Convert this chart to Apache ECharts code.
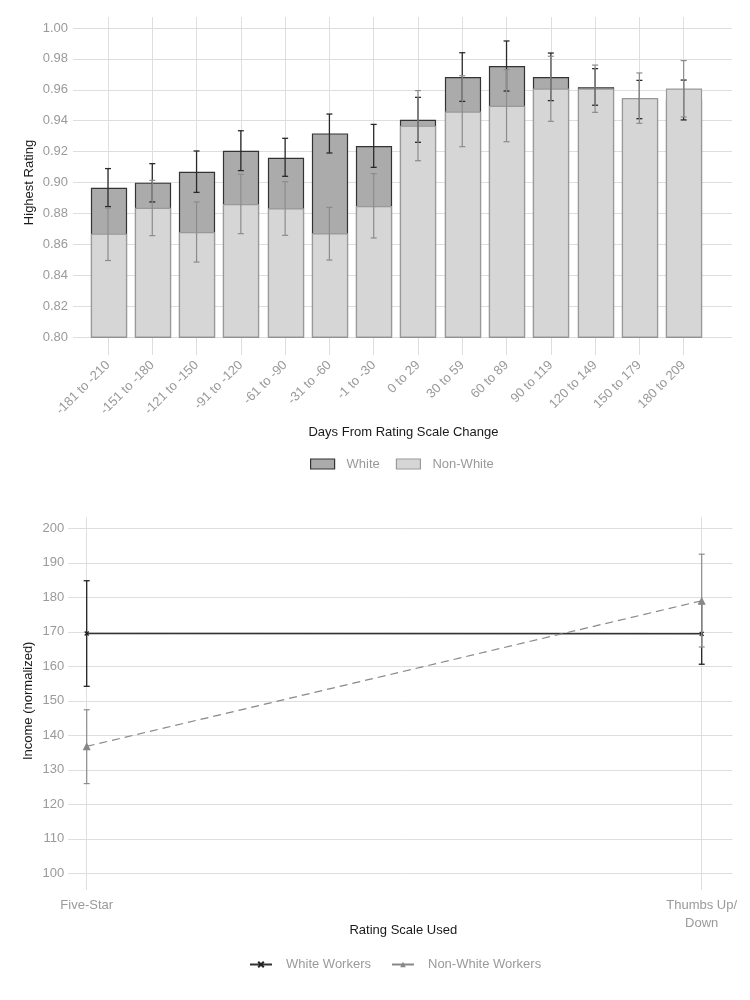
<!DOCTYPE html>
<html>
<head>
<meta charset="utf-8">
<script src="https://cdn.jsdelivr.net/npm/echarts@6/dist/echarts.min.js"></script>
<style>
html,body{margin:0;padding:0;background:#fff;}
#chart{width:750px;height:1000px;}
</style>
</head>
<body>
<div id="chart"></div>
<script>
// ---------- Top chart data ----------
var categories = ['-181 to -210','-151 to -180','-121 to -150','-91 to -120','-61 to -90','-31 to -60','-1 to -30','0 to 29','30 to 59','60 to 89','90 to 119','120 to 149','150 to 179','180 to 209'];
var whiteRating     = [0.8962, 0.8995, 0.9066, 0.9202, 0.9156, 0.9314, 0.9232, 0.9402, 0.9679, 0.9750, 0.9679, 0.9612, 0.9537, 0.9534];
var whiteRatingLow  = [0.8844, 0.8874, 0.8936, 0.9077, 0.9040, 0.9191, 0.9098, 0.9260, 0.9525, 0.9592, 0.9530, 0.9500, 0.9413, 0.9405];
var whiteRatingHigh = [0.9090, 0.9122, 0.9204, 0.9335, 0.9286, 0.9443, 0.9376, 0.9551, 0.9840, 0.9916, 0.9838, 0.9737, 0.9661, 0.9663];
var nonWhiteRating     = [0.8665, 0.8833, 0.8675, 0.8857, 0.8829, 0.8667, 0.8844, 0.9364, 0.9456, 0.9493, 0.9605, 0.9605, 0.9543, 0.9605];
var nonWhiteRatingLow  = [0.8495, 0.8656, 0.8485, 0.8669, 0.8658, 0.8498, 0.8641, 0.9141, 0.9232, 0.9264, 0.9396, 0.9454, 0.9383, 0.9424];
var nonWhiteRatingHigh = [0.8835, 0.9014, 0.8874, 0.9053, 0.9005, 0.8839, 0.9057, 0.9595, 0.9691, 0.9730, 0.9817, 0.9760, 0.9709, 0.9789];
var ratingMin = 0.80, ratingMax = 1.00, ratingStep = 0.02;

// ---------- Bottom chart data ----------
var scales = ['Five-Star', 'Thumbs Up/\nDown'];
var whiteIncome     = [169.5, 169.4];
var whiteIncomeLow  = [154.2, 160.6];
var whiteIncomeHigh = [184.8, 178.2];
var nonWhiteIncome     = [136.8, 179.0];
var nonWhiteIncomeLow  = [126.0, 165.6];
var nonWhiteIncomeHigh = [147.4, 192.5];
var incomeMin = 100, incomeMax = 200, incomeStep = 10;

// ---------- styles ----------
var FONT = 'Liberation Sans, Arial, sans-serif';
var GRID_C = '#dedede';
var TICK_C = '#9a9a9a';
var TITLE_C = '#1a1a1a';

function barRender(fill, stroke) {
  return function (params, api) {
    var i = api.value(0), v = api.value(1);
    var top = api.coord([i, v]);
    var base = api.coord([i, ratingMin]);
    var w = 35;
    return {
      type: 'rect',
      shape: { x: Math.round(top[0] - w / 2) + 0.5, y: top[1], width: w, height: base[1] - top[1] },
      style: { fill: fill, stroke: stroke, lineWidth: 1.2 }
    };
  };
}
function errRender(color, lw, cap) {
  return function (params, api) {
    var i = api.value(0);
    var lo = api.coord([i, api.value(1)]);
    var hi = api.coord([i, api.value(2)]);
    var x = lo[0];
    var st = { stroke: color, lineWidth: lw };
    return {
      type: 'group',
      children: [
        { type: 'line', shape: { x1: x, y1: lo[1], x2: x, y2: hi[1] }, style: st },
        { type: 'line', shape: { x1: x - cap, y1: lo[1], x2: x + cap, y2: lo[1] }, style: st },
        { type: 'line', shape: { x1: x - cap, y1: hi[1], x2: x + cap, y2: hi[1] }, style: st }
      ]
    };
  };
}

var chart = echarts.init(document.getElementById('chart'), null, { renderer: 'canvas' });

var option = {
  backgroundColor: '#ffffff',
  animation: false,
  textStyle: { fontFamily: FONT },
  grid: [
    { left: 73, right: 18, top: 28, height: 309 },                 // 0 top background (horizontal lines)
    { left: 85.86, right: 44.2, top: 28, height: 309 },            // 1 top bars
    { left: 108, right: 66.3, top: 17, height: 338 },              // 2 top vertical lines + labels
    { left: 68.3, right: 17.5, top: 528.3, height: 345 },          // 3 bottom background
    { left: 86.7, right: 48.3, top: 517.3, height: 372.7 },        // 4 bottom vertical lines + labels
    { left: 86.7, right: 48.3, top: 528.3, height: 345 }           // 5 bottom series
  ],
  xAxis: [
    { gridIndex: 0, type: 'value', show: false },
    { gridIndex: 1, type: 'category', data: categories, boundaryGap: true, show: false },
    { gridIndex: 2, type: 'category', data: categories, boundaryGap: false,
      axisLine: { show: false }, axisTick: { show: false },
      splitLine: { show: true, interval: 0, lineStyle: { color: GRID_C, width: 1 } },
      axisLabel: { interval: 0, rotate: 45, align: 'right', verticalAlign: 'middle', margin: 8,
        color: TICK_C, fontSize: 13, fontFamily: FONT } },
    { gridIndex: 3, type: 'value', show: false },
    { gridIndex: 4, type: 'category', data: scales, boundaryGap: false,
      axisLine: { show: false }, axisTick: { show: false },
      splitLine: { show: true, interval: 0, lineStyle: { color: GRID_C, width: 1 } },
      axisLabel: { interval: 0, margin: 6, color: TICK_C, fontSize: 13, lineHeight: 18, fontFamily: FONT, align: 'center' } },
    { gridIndex: 5, type: 'category', data: scales, boundaryGap: false, show: false }
  ],
  yAxis: [
    { gridIndex: 0, type: 'value', min: ratingMin, max: ratingMax, interval: ratingStep,
      axisLine: { show: false }, axisTick: { show: false },
      splitLine: { show: true, lineStyle: { color: GRID_C, width: 1 } },
      axisLabel: { formatter: function (v) { return v.toFixed(2); }, color: TICK_C, fontSize: 13, margin: 5, fontFamily: FONT } },
    { gridIndex: 1, type: 'value', min: ratingMin, max: ratingMax, show: false },
    { gridIndex: 2, type: 'value', min: 0, max: 1, show: false },
    { gridIndex: 3, type: 'value', min: incomeMin, max: incomeMax, interval: incomeStep,
      axisLine: { show: false }, axisTick: { show: false },
      splitLine: { show: true, lineStyle: { color: GRID_C, width: 1 } },
      axisLabel: { color: TICK_C, fontSize: 13, margin: 4, fontFamily: FONT } },
    { gridIndex: 4, type: 'value', min: 0, max: 1, show: false },
    { gridIndex: 5, type: 'value', min: incomeMin, max: incomeMax, show: false }
  ],
  legend: [
    { data: [
        { name: 'White', icon: 'rect', itemStyle: { color: '#ababab', borderColor: '#333333', borderWidth: 1.2 } },
        { name: 'Non-White', icon: 'rect', itemStyle: { color: '#d6d6d6', borderColor: '#999999', borderWidth: 1.2 } }
      ],
      left: 310, top: 457.5, padding: 0, itemWidth: 24, itemHeight: 10, itemGap: 16,
      textStyle: { color: TICK_C, fontSize: 13, fontFamily: FONT, padding: [0, 0, 0, 7] },
      selectedMode: false },
    { data: [
        { name: 'White Workers', lineStyle: { type: 'solid' } },
        { name: 'Non-White Workers', lineStyle: { type: 'solid' } }
      ],
      left: 249, top: 958, padding: 0, itemWidth: 22, itemHeight: 7, itemGap: 20,
      textStyle: { color: TICK_C, fontSize: 13, fontFamily: FONT, padding: [0, 0, 0, 9] },
      selectedMode: false }
  ],
  graphic: [
    { type: 'text', x: 403.5, y: 432.7, style: { text: 'Days From Rating Scale Change', align: 'center', verticalAlign: 'middle', fill: TITLE_C, font: '13px ' + FONT } },
    { type: 'text', x: 403.3, y: 930, style: { text: 'Rating Scale Used', align: 'center', verticalAlign: 'middle', fill: TITLE_C, font: '13px ' + FONT } },
    { type: 'text', x: 29, y: 182.5, rotation: Math.PI / 2, style: { text: 'Highest Rating', align: 'center', verticalAlign: 'middle', fill: TITLE_C, font: '13px ' + FONT } },
    { type: 'text', x: 28.3, y: 700.8, rotation: Math.PI / 2, style: { text: 'Income (normalized)', align: 'center', verticalAlign: 'middle', fill: TITLE_C, font: '13px ' + FONT } }
  ],
  series: [
    { name: 'White', type: 'custom', xAxisIndex: 1, yAxisIndex: 1, z: 2,
      itemStyle: { color: '#ababab' },
      renderItem: barRender('#ababab', '#333333'),
      data: whiteRating.map(function (v, i) { return [i, v]; }) },
    { name: 'Non-White', type: 'custom', xAxisIndex: 1, yAxisIndex: 1, z: 3,
      itemStyle: { color: '#d6d6d6' },
      renderItem: barRender('#d6d6d6', '#999999'),
      data: nonWhiteRating.map(function (v, i) { return [i, v]; }) },
    { name: 'White CI', type: 'custom', xAxisIndex: 1, yAxisIndex: 1, z: 4,
      renderItem: errRender('#2a2a2a', 1.3, 3),
      data: whiteRatingLow.map(function (v, i) { return [i, v, whiteRatingHigh[i]]; }) },
    { name: 'Non-White CI', type: 'custom', xAxisIndex: 1, yAxisIndex: 1, z: 5,
      renderItem: errRender('#8c8c8c', 1.2, 3),
      data: nonWhiteRatingLow.map(function (v, i) { return [i, v, nonWhiteRatingHigh[i]]; }) },

    { name: 'White Workers CI', type: 'custom', xAxisIndex: 5, yAxisIndex: 5, z: 3,
      renderItem: errRender('#222222', 1.3, 3),
      data: whiteIncomeLow.map(function (v, i) { return [i, v, whiteIncomeHigh[i]]; }) },
    { name: 'White Workers', type: 'line', xAxisIndex: 5, yAxisIndex: 5, z: 4, clip: false,
      data: whiteIncome,
      symbol: 'path://M0,0L10,10M10,0L0,10', symbolSize: 4,
      itemStyle: { color: '#222222', borderColor: '#222222', borderWidth: 1.2 },
      lineStyle: { color: '#333333', width: 1.5, type: 'solid' } },
    { name: 'Non-White Workers CI', type: 'custom', xAxisIndex: 5, yAxisIndex: 5, z: 5,
      renderItem: errRender('#8c8c8c', 1.2, 3),
      data: nonWhiteIncomeLow.map(function (v, i) { return [i, v, nonWhiteIncomeHigh[i]]; }) },
    { name: 'Non-White Workers', type: 'line', xAxisIndex: 5, yAxisIndex: 5, z: 6, clip: false,
      data: nonWhiteIncome,
      symbol: 'triangle', symbolSize: 8,
      itemStyle: { color: '#888888' },
      lineStyle: { color: '#888888', width: 1.2, type: [8, 5] } }
  ]
};
chart.setOption(option);
</script>
</body>
</html>
